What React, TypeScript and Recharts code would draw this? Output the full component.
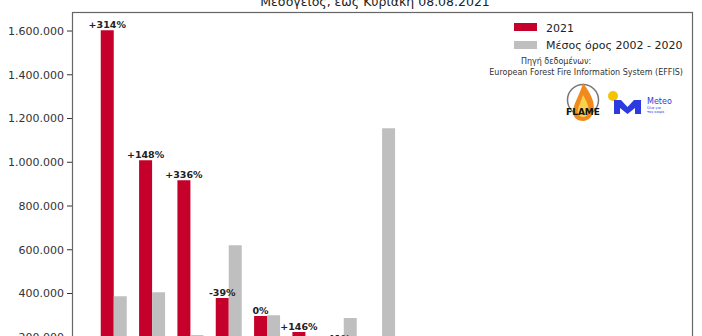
import React from "react"
import { BarChart, Bar, XAxis, YAxis, LabelList } from "recharts"

// Burnt area (stremmata) per country, 2021 vs average 2002-2020, up to 08.08
const countries = [
  "Τουρκία", "Ιταλία", "Ελλάδα", "Ισπανία", "Τυνησία", "Αλγερία", "Γαλλία", "Πορτογαλία",
  "Κροατία", "Κύπρος", "Λίβανος", "Μαρόκο", "Αλβανία", "Ισραήλ", "Συρία",
]
const values2021 = [1603000, 1009000, 918000, 379000, 297000, 224000, 170000, 120000, 95000, 75000, 55000, 40000, 28000, 15000, 8000]
const valuesAvg = [388000, 406000, 210000, 621000, 301000, 91000, 288000, 1155000, 150000, 60000, 35000, 70000, 45000, 12000, 20000]
const changeLabels = ["+314%", "+148%", "+336%", "-39%", "0%", "+146%", "-41%", "-90%", "-37%", "+25%", "+57%", "-43%", "-38%", "+25%", "-60%"]
const yTicks = [0, 200000, 400000, 600000, 800000, 1000000, 1200000, 1400000, 1600000]

const RED = "#c4002b"
const GRAY = "#bfbfbf"
const FONT = "'DejaVu Sans', sans-serif"

const data = countries.map((c, i) => ({
  country: c,
  y2021: values2021[i],
  avg: valuesAvg[i],
  change: changeLabels[i],
}))

const fmt = (v: number) => v.toLocaleString("de-DE")

export default function App() {
  return (
    <div
      style={{
        position: "fixed",
        left: 0,
        top: 0,
        width: 702,
        height: 336,
        overflow: "hidden",
        background: "#fff",
        fontFamily: FONT,
      }}
    >
      <BarChart
        width={702}
        height={440}
        data={data}
        margin={{ top: 12, right: 9, bottom: 9, left: 8 }}
        barCategoryGap="15%"
        barGap={0}
      >
        {/* country names sit below the visible crop, as in the reference */}
        <XAxis
          dataKey="country"
          height={50}
          padding={{ left: 22, right: 23 }}
          axisLine={false}
          tickLine={{ stroke: "#333" }}
          tick={{ fill: "#333", fontSize: 8, fontFamily: FONT }}
          angle={-45}
          textAnchor="end"
          interval={0}
        />
        <YAxis
          width={65}
          domain={[0, 1687000]}
          ticks={yTicks}
          allowDataOverflow
          tickFormatter={fmt}
          axisLine={false}
          tickLine={{ stroke: "#333" }}
          tickSize={6}
          tickMargin={3}
          tick={{ fill: "#333", fontSize: 11, fontFamily: FONT }}
        />
        <Bar dataKey="y2021" fill={RED} isAnimationActive={false}>
          <LabelList
            dataKey="change"
            position="top"
            offset={2}
            fill="#222"
            fontSize={9.5}
            fontWeight="bold"
            fontFamily={FONT}
          />
        </Bar>
        <Bar dataKey="avg" fill={GRAY} isAnimationActive={false} />
      </BarChart>

      <svg
        width={702}
        height={336}
        style={{ position: "absolute", left: 0, top: 0, pointerEvents: "none" }}
        fontFamily={FONT}
      >
        {/* title, cut off at the top */}
        <text x={375} y={6} textAnchor="middle" fontSize={12.5} fill="#222">
          Μεσόγειος, έως Κυριακή 08.08.2021
        </text>

        {/* plot frame */}
        <rect x={72.5} y={12.5} width={620} height={369} fill="none" stroke="#666" strokeWidth={1.2} />

        {/* legend */}
        <rect x={514} y={23} width={23} height={8} fill={RED} />
        <text x={546} y={32} fontSize={11} fill="#222">2021</text>
        <rect x={514} y={41} width={23} height={8} fill={GRAY} />
        <text x={546} y={49} fontSize={11} fill="#222">Μέσος όρος 2002 - 2020</text>

        {/* source */}
        <text x={556} y={64} textAnchor="middle" fontSize={8} fill="#333">Πηγή δεδομένων:</text>
        <text x={683} y={75} textAnchor="end" fontSize={8} fill="#333">
          European Forest Fire Information System (EFFIS)
        </text>

        {/* FLAME logo */}
        <circle cx={583} cy={100} r={15.5} fill="none" stroke="#777" strokeWidth={1.5} />
        <path
          d="M583,83 C591,94 596,103 593,113 C591,119 586,121 583,121 C578,121 573,118 573,112 C573,104 579,97 583,83 Z"
          fill="#f08a1c"
        />
        <path
          d="M583,95 C587,102 590,108 588,114 C586,118 580,118 578,114 C577,109 580,104 583,95 Z"
          fill="#fbd14b"
        />
        <text x={583} y={115} textAnchor="middle" fontSize={9} fontWeight="bold" fill="#111">FLAME</text>

        {/* Meteo logo */}
        <circle cx={613} cy={96} r={5} fill="#f5c400" />
        <path
          d="M614,114 L614,100 L621,100 L627.5,107 L634,100 L641,100 L641,114 L635,114 L635,108 L627.5,114 L620,108 L620,114 Z"
          fill="#2b3be0"
        />
        <text x={647} y={104} fontSize={8} fill="#2b3be0">Meteo</text>
        <text x={647} y={109} fontSize={3.5} fill="#2b3be0">Όλα για</text>
        <text x={647} y={113} fontSize={3.5} fill="#2b3be0">τον καιρό</text>
      </svg>
    </div>
  )
}
